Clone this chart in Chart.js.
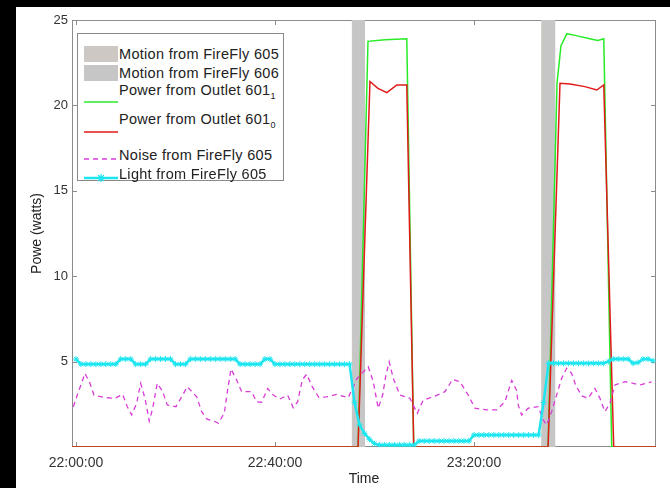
<!DOCTYPE html>
<html>
<head>
<meta charset="utf-8">
<script src="https://cdn.jsdelivr.net/npm/chart.js@4.4.0/dist/chart.umd.min.js"></script>
<style>
body { margin: 0; background: #000; width: 670px; height: 488px; overflow: hidden; font-family: "Liberation Sans", Arial, sans-serif; }
#wrap { position: absolute; left: 16px; top: 7px; width: 654px; height: 481px; background: #fff; }
#legend { position: absolute; left: 61px; top: 26px; width: 205px; height: 146px; border: 1px solid #8a8a8a; background: #fff; }
#legend .key { position: absolute; left: 6px; width: 34px; }
#legend .txt { position: absolute; left: 41px; font-size: 14.5px; letter-spacing: 0.3px; color: #222; white-space: nowrap; line-height: 16px; }
#legend sub { font-size: 9px; vertical-align: -4px; }
</style>
</head>
<body>
<div id="wrap">
  <canvas id="chart" width="654" height="481"></canvas>
  <div id="legend"></div>
</div>
<script>
// time is minutes after 22:00:00
const xTicks = [0, 40, 80];
const yTicks = [5, 10, 15, 20, 25];

// motion events (start/end minutes)
const motion605Start = [55.4, 93.5];
const motion605End = [57.8, 96.0];
const motion606Start = [55.6, 93.8];
const motion606End = [58.1, 96.4];

// Power from Outlet 601_1 (green)
const greenTimes = [-0.8, 56.7, 58.7, 62.1, 66.5, 67.9, 94.9, 96.7, 97.5, 98.7, 100.3, 103.3, 104.9, 106.1, 107.7, 116.6];
const greenWatts = [0, 0, 23.75, 23.85, 23.9, 0, 0, 21.3, 23.5, 24.2, 24.1, 23.9, 23.8, 23.9, 0, 0];

// Power from Outlet 601_0 (red)
const redTimes = [-0.8, 56.7, 59.1, 60.7, 62.5, 64.5, 66.5, 67.9, 94.9, 97.3, 99.3, 102.3, 104.7, 106.1, 108.1, 116.6];
const redWatts = [0, 0, 21.4, 21.0, 20.75, 21.2, 21.2, 0, 0, 21.3, 21.25, 21.1, 20.9, 21.2, 0, 0];

// Noise from FireFly 605
const noiseTimes = [-0.54, 0.26, 1.81, 2.81, 3.62, 5.83, 7.84, 9.39, 10.31, 11.2, 12.2, 13.0, 13.87, 14.73, 15.42,
  16.34, 17.43, 18.35, 20.1, 21.45, 22.37, 24.26, 25.27, 26.27, 28.28, 28.6, 29.81, 30.49, 31.16, 32.3,
  33.31, 35.32, 36.32, 37.33, 38.53, 39.66, 41.0, 42.55, 43.68, 44.56, 45.49, 46.37, 47.5, 48.84, 50.39,
  52.4, 54.73, 56.48, 58.75, 59.76, 60.76, 61.65, 62.31, 62.97, 63.78, 65.13, 67.14, 68.6, 69.81, 71.82,
  74.17, 75.72, 77.19, 78.85, 80.2, 82.55, 84.56, 86.23, 87.6, 88.6, 88.9, 89.59, 90.92, 92.92, 93.93,
  94.61, 95.62, 96.62, 97.63, 98.63, 99.64, 100.44, 101.65, 102.97, 104.32, 105.33, 106.33, 107.34, 108.34, 110.35,
  112.02, 113.37, 115.72];
const noiseLevel = [2.36, 3.04, 4.31, 3.73, 3.04, 2.89, 2.85, 3.08, 2.36, 1.87, 2.56, 3.73, 2.85, 1.52, 2.27,
  3.73, 3.24, 2.46, 2.36, 3.04, 3.53, 2.94, 2.07, 1.64, 1.45, 1.39, 1.97, 3.34, 4.57, 3.92,
  3.24, 3.24, 2.65, 2.62, 3.43, 3.04, 2.81, 3.04, 2.30, 2.65, 3.92, 4.26, 3.53, 2.89, 2.94,
  3.08, 2.89, 4.0, 4.70, 3.82, 2.27, 3.04, 4.22, 4.99, 4.02, 3.04, 2.85, 1.97, 2.75, 2.94,
  3.24, 3.96, 3.82, 3.04, 2.27, 2.17, 2.17, 2.65, 3.9, 3.3, 2.46, 1.87, 2.27, 2.36, 1.58,
  1.29, 2.07, 3.04, 4.02, 4.61, 4.31, 3.63, 3.00, 2.85, 3.43, 2.85, 2.07, 2.56, 3.63, 3.82,
  3.73, 3.63, 3.82];

// Light from FireFly 605, one sample per minute from 22:00
const lightLevel = [
  5.15, 4.85, 4.85, 4.85, 4.85, 4.85, 4.85, 4.85, 4.85, 5.15,
  5.15, 5.15, 4.85, 4.85, 4.85, 5.15, 5.15, 5.15, 5.15, 5.15,
  4.85, 4.85, 4.85, 5.15, 5.15, 5.15, 5.15, 5.15, 5.15, 5.15,
  5.15, 5.15, 5.15, 4.85, 4.85, 4.85, 4.85, 4.85, 5.15, 5.15,
  4.85, 4.85, 4.85, 4.85, 4.85, 4.85, 4.85, 4.85, 4.85, 4.85,
  4.85, 4.85, 4.85, 4.85, 4.85, 4.85, 2.6, 1.3, 0.8, 0.45,
  0.2, 0.12, 0.12, 0.12, 0.12, 0.12, 0.12, 0.12, 0.12, 0.35,
  0.35, 0.35, 0.35, 0.35, 0.35, 0.35, 0.35, 0.35, 0.35, 0.35,
  0.7, 0.7, 0.7, 0.7, 0.7, 0.7, 0.7, 0.7, 0.7, 0.7,
  0.7, 0.7, 0.7, 0.7, 2.6, 4.9, 4.9, 4.9, 4.9, 4.9,
  4.9, 4.9, 4.9, 4.9, 4.9, 4.9, 4.9, 5.0, 5.15, 5.15,
  5.15, 5.15, 4.9, 4.95, 5.15, 5.15, 5.05];

const pts = (xs, ys) => xs.map((t, i) => ({x: t, y: ys[i]}));

const motionColor605 = 'rgb(205,200,195)';
const motionColor606 = 'rgb(198,198,198)';
const green = 'rgb(40,235,40)';
const red = 'rgb(225,25,25)';
const magenta = 'rgb(215,60,215)';
const cyan = 'rgb(30,230,240)';
const fontFamily = '"Liberation Sans", Arial, sans-serif';

function motionSets(starts, ends, color, order) {
  return starts.map((s, i) => ({
    data: [{x: s, y: 25}, {x: ends[i], y: 25}],
    borderWidth: 0, pointRadius: 0, fill: 'origin', backgroundColor: color, order: order
  }));
}

const datasets = [
  ...motionSets(motion605Start, motion605End, motionColor605, 6),
  ...motionSets(motion606Start, motion606End, motionColor606, 5),
  { data: pts(greenTimes, greenWatts), borderColor: green, borderWidth: 1.5, pointRadius: 0, order: 4 },
  { data: pts(redTimes, redWatts), borderColor: red, borderWidth: 1.5, pointRadius: 0, order: 3 },
  { data: pts(noiseTimes, noiseLevel), borderColor: magenta, borderWidth: 1.3, borderDash: [5, 4], pointRadius: 0, order: 2 },
  { data: lightLevel.map((v, i) => ({x: i, y: v})), borderColor: cyan, borderWidth: 2.5,
    pointStyle: 'star', pointRadius: 3, pointBorderColor: cyan, pointBorderWidth: 1, order: 1 }
];

const boxPlugin = {
  id: 'box',
  beforeDatasetsDraw(chart) {
    const {ctx, chartArea: a, scales: {x, y}} = chart;
    ctx.save();
    ctx.strokeStyle = '#8c8c8c';
    ctx.lineWidth = 1;
    ctx.strokeRect(a.left + 0.5, a.top + 0.5, a.width - 1, a.height - 1);
    ctx.beginPath();
    xTicks.forEach(v => {
      const px = Math.round(x.getPixelForValue(v)) + 0.5;
      ctx.moveTo(px, a.bottom); ctx.lineTo(px, a.bottom - 5);
      ctx.moveTo(px, a.top); ctx.lineTo(px, a.top + 5);
    });
    yTicks.forEach(v => {
      const py = Math.round(y.getPixelForValue(v)) + 0.5;
      ctx.moveTo(a.left, py); ctx.lineTo(a.left + 5, py);
      ctx.moveTo(a.right, py); ctx.lineTo(a.right - 5, py);
    });
    ctx.stroke();
    ctx.restore();
  }
};

function clock(v) {
  const total = 22 * 60 + v;
  const hh = Math.floor(total / 60), mm = Math.round(total % 60);
  return String(hh).padStart(2, '0') + ':' + String(mm).padStart(2, '0') + ':00';
}

new Chart(document.getElementById('chart'), {
  type: 'line',
  data: {datasets},
  options: {
    responsive: false,
    animation: false,
    devicePixelRatio: 1,
    layout: {padding: {top: 13, right: 14}},
    elements: {line: {tension: 0}},
    plugins: {legend: {display: false}, tooltip: {enabled: false}},
    scales: {
      x: {
        type: 'linear', min: -0.8, max: 116.6,
        afterBuildTicks: s => { s.ticks = xTicks.map(v => ({value: v})); },
        afterFit: s => { s.height = 41; },
        grid: {display: false, drawTicks: false},
        border: {display: false},
        ticks: {callback: clock, maxRotation: 0, padding: 8, color: '#333', font: {family: fontFamily, size: 14}},
        title: {display: true, text: 'Time', color: '#222', padding: {top: 2, bottom: 0}, font: {family: fontFamily, size: 14}}
      },
      y: {
        type: 'linear', min: 0, max: 25,
        afterBuildTicks: s => { s.ticks = yTicks.map(v => ({value: v})); },
        afterFit: s => { s.width = 56; },
        grid: {display: false, drawTicks: false},
        border: {display: false},
        ticks: {padding: 4, color: '#333', font: {family: fontFamily, size: 13}},
        title: {display: true, text: 'Powe (watts)', color: '#222', padding: {top: 13, bottom: 0}, font: {family: fontFamily, size: 14}}
      }
    }
  },
  plugins: [boxPlugin]
});

// legend, MATLAB style
const legendRows = [
  {html: 'Motion from FireFly 605', kind: 'patch', color: motionColor605, lineY: 20, textY: 20},
  {html: 'Motion from FireFly 606', kind: 'patch', color: motionColor606, lineY: 39, textY: 39},
  {html: 'Power from Outlet 601<sub>1</sub>', kind: 'line', color: green, lineY: 64, textY: 56},
  {html: 'Power from Outlet 601<sub>0</sub>', kind: 'line', color: red, lineY: 94, textY: 85},
  {html: 'Noise from FireFly 605', kind: 'dash', color: magenta, lineY: 121, textY: 121},
  {html: 'Light from FireFly 605', kind: 'star', color: cyan, lineY: 140, textY: 140}
];
const legend = document.getElementById('legend');
legendRows.forEach(r => {
  const key = document.createElement('div');
  key.className = 'key';
  if (r.kind === 'patch') {
    key.style.top = (r.lineY - 8) + 'px';
    key.style.height = '16px';
    key.style.background = r.color;
  } else {
    key.style.top = (r.lineY - 5) + 'px';
    key.style.height = '10px';
    let svg = '<svg width="34" height="10">';
    if (r.kind === 'dash') svg += '<line x1="0" y1="5" x2="34" y2="5" stroke="' + r.color + '" stroke-width="1.5" stroke-dasharray="5,4"/>';
    else svg += '<line x1="0" y1="5" x2="34" y2="5" stroke="' + r.color + '" stroke-width="' + (r.kind === 'star' ? 2.5 : 1.5) + '"/>';
    if (r.kind === 'star') svg += '<path d="M14 2 L20 8 M20 2 L14 8 M17 1 L17 9" stroke="' + r.color + '" stroke-width="1.2"/>';
    svg += '</svg>';
    key.innerHTML = svg;
  }
  legend.appendChild(key);
  const txt = document.createElement('div');
  txt.className = 'txt';
  txt.style.top = (r.textY - 8) + 'px';
  txt.innerHTML = r.html;
  legend.appendChild(txt);
});
</script>
</body>
</html>
